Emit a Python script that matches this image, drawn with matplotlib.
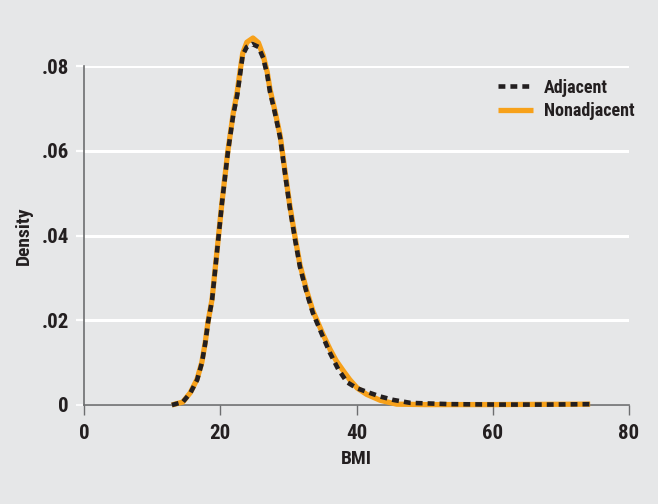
import matplotlib
matplotlib.use("Agg")
import matplotlib.pyplot as plt
from matplotlib import font_manager as fm

# ---- data ----
adj_bmi = [12.9, 14.5, 15.6, 16.6, 17.3, 17.8, 18.2, 18.8, 19.5, 20.25, 21.1, 21.9,
           22.5, 22.9, 23.3, 23.9, 24.7, 25.6, 26.3, 26.9, 27.3, 28.0, 28.8, 29.5,
           30.2, 31.0, 31.7, 32.7, 33.6, 35.1, 36.1, 37.3, 38.6, 40.0, 41.5, 43.5,
           45.4, 47.9, 53.7, 61.0, 68.0, 74.3]
adj_den = [0.0, 0.0007, 0.0028, 0.0059, 0.0099, 0.0146, 0.0194, 0.0248, 0.0358, 0.0476,
           0.0594, 0.0684, 0.0732, 0.0779, 0.0826, 0.0845, 0.0852, 0.0845, 0.0819, 0.0779,
           0.0739, 0.0691, 0.0630, 0.0547, 0.0467, 0.0389, 0.0326, 0.0264, 0.0217, 0.0160,
           0.0123, 0.0085, 0.0054, 0.0040, 0.0031, 0.0020, 0.0012, 0.0005, 0.0002, 0.0001,
           0.0001, 0.0002]

non_bmi = [12.9, 14.5, 15.6, 16.6, 17.3, 17.8, 18.2, 18.8, 19.5, 20.25, 21.1, 21.9,
           22.5, 22.9, 23.3, 23.9, 24.8, 25.6, 26.3, 26.9, 27.3, 28.0, 28.8, 29.5,
           30.2, 31.0, 31.7, 32.7, 33.6, 35.1, 36.1, 37.0, 38.0, 39.0, 40.1, 41.5,
           43.5, 45.9, 50.0, 60.0, 74.3]
non_den = [0.0, 0.0007, 0.0029, 0.0061, 0.0101, 0.0148, 0.0196, 0.0250, 0.0360, 0.0478,
           0.0597, 0.0688, 0.0740, 0.0787, 0.0830, 0.0856, 0.0866, 0.0855, 0.0825, 0.0785,
           0.0745, 0.0696, 0.0635, 0.0552, 0.0472, 0.0394, 0.0331, 0.0269, 0.0222, 0.0166,
           0.0132, 0.0105, 0.0082, 0.0060, 0.0040, 0.0025, 0.0011, 0.0002, 0.0001, 0.0001,
           0.0002]

xticks = [0, 20, 40, 60, 80]
yticks = [0, 0.02, 0.04, 0.06, 0.08]
ytick_labels = ["0", ".02", ".04", ".06", ".08"]

# ---- style ----
avail = {f.name for f in fm.fontManager.ttflist}
fam = [f for f in ["Liberation Sans Narrow", "Roboto Condensed", "Open Sans Condensed",
                   "Liberation Sans", "DejaVu Sans"] if f in avail]
plt.rcParams["font.family"] = fam
plt.rcParams["font.weight"] = "bold"

BG = "#e6e7e8"
GRAY = "#6d6e70"
TXT = "#231f20"
ORANGE = "#f7a11a"

fig = plt.figure(figsize=(6.58, 5.04), dpi=100, facecolor=BG)
W, H = 658, 504
ax = fig.add_axes([84 / W, (H - 405) / H, (629 - 84) / W, (405 - 66) / H], facecolor=BG)

ax.set_xlim(0, 80)
ax.set_ylim(0, 0.08)

ax.grid(axis="y", color="white", linewidth=2.2, zorder=0)
ax.set_axisbelow(True)

ax.plot(non_bmi, non_den, color=ORANGE, linewidth=3.8, solid_capstyle="butt",
        solid_joinstyle="round", label="Nonadjacent", clip_on=False, zorder=3)
ax.plot(adj_bmi, adj_den, color=TXT, linewidth=3.3, dashes=(1.5, 1.1),
        dash_capstyle="butt", dash_joinstyle="round", label="Adjacent",
        clip_on=False, zorder=4)

for s in ["top", "right"]:
    ax.spines[s].set_visible(False)
ax.spines["left"].set_color(GRAY)
ax.spines["left"].set_linewidth(1.2)
ax.spines["bottom"].set_color(GRAY)
ax.spines["bottom"].set_linewidth(1.2)

ax.set_xticks(xticks)
ax.set_xticklabels([str(v) for v in xticks])
ax.set_yticks(yticks)
ax.set_yticklabels(ytick_labels)
ax.tick_params(axis="x", direction="out", length=7.5, width=1.0, color=GRAY,
               labelsize=15, labelcolor=TXT, pad=6)
ax.tick_params(axis="y", direction="out", length=6, width=1.6, color="white",
               labelsize=15, labelcolor=TXT, pad=5)
ytl = ax.yaxis.get_major_ticks()
ytl[0].tick1line.set_color(GRAY)
ytl[0].tick1line.set_markeredgewidth(1.2)

ax.set_xlabel("BMI", fontsize=14, color=TXT, fontweight="bold", labelpad=5)
ax.set_ylabel("Density", fontsize=14, color=TXT, fontweight="bold", labelpad=6)

h, l = ax.get_legend_handles_labels()
leg = ax.legend(h[::-1], l[::-1], loc="upper right", bbox_to_anchor=(1.03, 0.995),
                frameon=False, fontsize=13, handlelength=1.95, handletextpad=0.6,
                labelspacing=0.3, borderaxespad=0.2)
for t in leg.get_texts():
    t.set_color(TXT)

fig.savefig("out.png", dpi=100, facecolor=BG)
